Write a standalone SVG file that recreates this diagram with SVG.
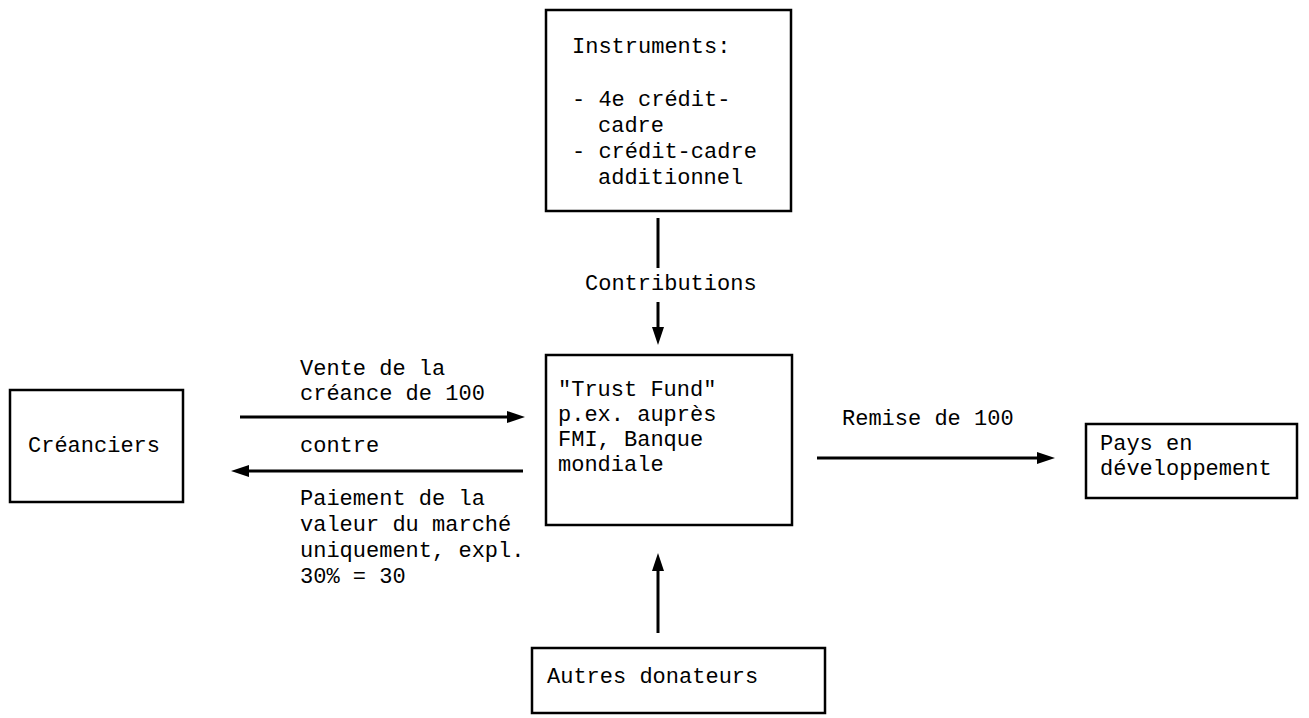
<svg xmlns="http://www.w3.org/2000/svg" width="1309" height="718" viewBox="0 0 1309 718">
<style>
.box{fill:none;stroke:#000;stroke-width:2.5}
.ln{fill:none;stroke:#000;stroke-width:3}
text{font-family:"Liberation Mono","Courier New",monospace;font-size:22px;fill:#000}
</style>
<defs>
<marker id="ah" viewBox="0 0 18 12" refX="8" refY="6" markerWidth="18" markerHeight="12" markerUnits="userSpaceOnUse" orient="auto">
<path d="M0,0 L18,6 L0,12 z" fill="#000"/>
</marker>
</defs>
<rect width="1309" height="718" fill="#fff"/>
<g id="instruments">
<rect class="box" x="546" y="10" width="245" height="201"/>
<text x="572" y="53">Instruments:</text>
<text x="572" y="106">- 4e crédit-</text>
<text x="598" y="132">cadre</text>
<text x="572" y="158">- crédit-cadre</text>
<text x="598" y="184">additionnel</text>
</g>
<g id="trustfund">
<rect class="box" x="546" y="355" width="246" height="170"/>
<text x="558" y="396">"Trust Fund"</text>
<text x="558" y="421">p.ex. auprès</text>
<text x="558" y="446">FMI, Banque</text>
<text x="558" y="471">mondiale</text>
</g>
<g id="creanciers">
<rect class="box" x="10" y="390" width="173" height="112"/>
<text x="28" y="452">Créanciers</text>
</g>
<g id="pays">
<rect class="box" x="1086" y="424" width="211" height="74"/>
<text x="1100" y="450">Pays en</text>
<text x="1100" y="475">développement</text>
</g>
<g id="autres">
<rect class="box" x="532" y="648" width="293" height="65"/>
<text x="547" y="683">Autres donateurs</text>
</g>
<g id="connectors">
<line class="ln" x1="658" y1="218" x2="658" y2="268"/>
<line class="ln" x1="658" y1="302" x2="658" y2="335" marker-end="url(#ah)"/>
<text x="585" y="290">Contributions</text>
<line class="ln" x1="240" y1="417" x2="515" y2="417" marker-end="url(#ah)"/>
<text x="300" y="375">Vente de la</text>
<text x="300" y="400">créance de 100</text>
<line class="ln" x1="523" y1="471" x2="241" y2="471" marker-end="url(#ah)"/>
<text x="300" y="452">contre</text>
<text x="300" y="505">Paiement de la</text>
<text x="300" y="531">valeur du marché</text>
<text x="300" y="557">uniquement, expl.</text>
<text x="300" y="583">30% = 30</text>
<line class="ln" x1="817" y1="458" x2="1045" y2="458" marker-end="url(#ah)"/>
<text x="842" y="425">Remise de 100</text>
<line class="ln" x1="658" y1="633" x2="658" y2="563" marker-end="url(#ah)"/>
</g>
</svg>
